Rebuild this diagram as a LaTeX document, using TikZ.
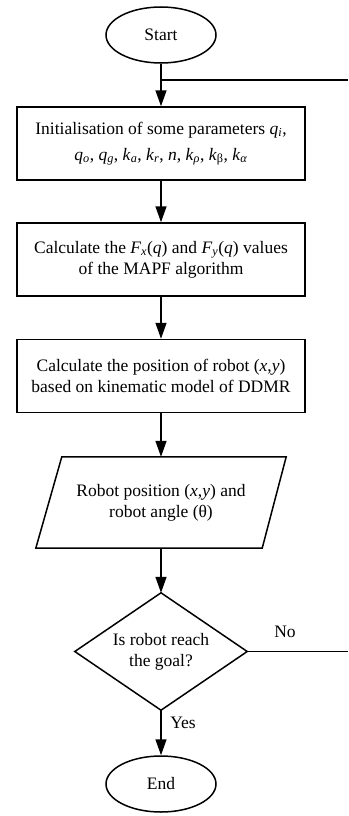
\documentclass[tikz,border=0pt]{standalone}
\usepackage{fontspec}
\setmainfont{Liberation Serif}
\usetikzlibrary{arrows.meta,shapes.geometric}
\newcommand{\mv}[1]{\textit{#1}}
\newcommand{\vsb}[1]{\textsubscript{\textit{#1}}}
\begin{document}
\begin{tikzpicture}[x=1pt,y=-1pt,
  every node/.style={font=\fontsize{17.5}{21}\selectfont, align=center},
  flowline/.style={line width=1.5pt},
  arrowline/.style={line width=1.5pt, -{Triangle[length=16pt,width=11pt]}},
  termbox/.style={draw, ellipse, line width=1.5pt, minimum width=110pt, minimum height=56pt, inner sep=0pt},
  procbox/.style={draw, rectangle, line width=1.5pt, minimum width=288pt, minimum height=73pt, inner sep=2pt},
  plainbox/.style={rectangle, inner sep=0pt},
  lbl/.style={inner sep=1pt}
]
\useasboundingbox[fill=white] (0,0) rectangle (348,816);

\node[termbox] (start) at (161,35) {Start};
\node[procbox] (b1) at (161,143.5) {Initialisation of some parameters \mv{q}\vsb{i},\\[5pt]
  \mv{q}\vsb{o}, \mv{q}\vsb{g}, \mv{k}\vsb{a}, \mv{k}\vsb{r}, \mv{n}, \mv{k}\vsb{ρ}, \mv{k}\textsubscript{β}, \mv{k}\vsb{α}};
\node[procbox] (b2) at (161,259.5) {Calculate the \mv{F}\vsb{x}(\mv{q}) and \mv{F}\vsb{y}(\mv{q}) values\\ of the MAPF algorithm};
\node[procbox] (b3) at (161,376) {Calculate the position of robot (\mv{x},\mv{y})\\ based on kinematic model of DDMR};
\node[plainbox, minimum width=250pt, minimum height=91pt] (io) at (161,502.5) {Robot position (\mv{x},\mv{y}) and\\ robot angle (θ)};
\draw[flowline, line join=miter] ([xshift=26pt]io.north west) -- (io.north east) -- ([xshift=-24pt]io.south east) -- (io.south west) -- cycle;
\node[plainbox, minimum width=172pt, minimum height=117pt] (dec) at (161,651.5) {Is robot reach\\ the goal?};
\draw[flowline, line join=miter] (dec.north) -- (dec.east) -- (dec.south) -- (dec.west) -- cycle;
\node[termbox] (end) at (161,784) {End};

\coordinate (j1) at (161,80);
\coordinate (r1) at (348,80);
\coordinate (r2) at (348,651.5);

\draw[arrowline] (start) -- (b1);
\draw[flowline] (j1) -- (r1);
\draw[arrowline] (b1) -- (b2);
\draw[arrowline] (b2) -- (b3);
\draw[arrowline] (b3) -- (io);
\draw[arrowline] (io) -- (dec.north);
\draw[flowline] (dec.east) -- (r2);
\draw[arrowline] (dec.south) -- (end);

\node[lbl] (no) at (285,632) {No};
\node[lbl] (yes) at (183,723) {Yes};
\end{tikzpicture}
\end{document}
